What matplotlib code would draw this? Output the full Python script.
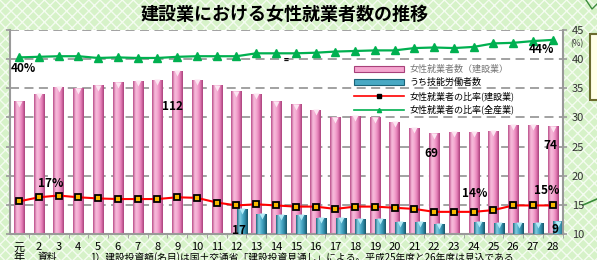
import numpy as np
import matplotlib
matplotlib.use('Agg')
import matplotlib.pyplot as plt
from matplotlib.colors import LinearSegmentedColormap
from matplotlib.patches import FancyBboxPatch, Rectangle, Patch
from matplotlib.lines import Line2D

plt.rcParams['font.family'] = ['Noto Sans CJK JP', 'DejaVu Sans']

# data (平成元年 - 28年)
years = ['元'] + [str(i) for i in range(2, 29)]
women_const = [91, 96, 101, 100, 102, 104, 105, 106, 112, 106, 102, 98, 96, 91,
               89, 85, 80, 81, 80, 77, 73, 69, 70, 70, 71, 75, 75, 74]
skilled = [np.nan] * 11 + [17, 14, 13, 13, 11, 11, 10, 10, 8.2, 8.0, 7.1, np.nan,
                           8.0, 7.3, 7.3, 7.3, 8.6]
ratio_const = [15.6, 16.3, 16.6, 16.3, 16.1, 16.0, 16.0, 16.0, 16.3, 16.2, 15.4, 14.9,
               15.1, 14.9, 14.7, 14.7, 14.3, 14.7, 14.7, 14.5, 14.3, 13.8, 13.8, 13.8,
               14.1, 14.9, 14.9, 14.9]
ratio_all = [40.3, 40.4, 40.5, 40.5, 40.2, 40.3, 40.2, 40.2, 40.4, 40.5, 40.5, 40.5,
             41.0, 41.0, 41.0, 41.1, 41.3, 41.4, 41.5, 41.5, 41.9, 42.0, 41.9, 42.1,
             42.7, 42.8, 43.1, 43.3]
legend_labels = ['女性就業者数（建設業）', 'うち技能労働者数',
                 '女性就業者の比率(建設業)', '女性就業者の比率(全産業)']

x = np.arange(len(years))
W, H = 597, 260

fig = plt.figure(figsize=(W / 100, H / 100), dpi=100)

# background layer in pixel coords
bg = fig.add_axes([0, 0, 1, 1], zorder=-5)
bg.set_xlim(0, W)
bg.set_ylim(H, 0)
bg.axis('off')
bg.add_patch(Rectangle((0, 0), W, H, facecolor='#d6f2c8', edgecolor='#f4fcf0',
                       hatch='xxx', lw=0))

# title bar with tube gradient
tb = FancyBboxPatch((6, 4), 558, 21, boxstyle='round,pad=0,rounding_size=7',
                    facecolor='none', edgecolor='none')
bg.add_patch(tb)
tube = LinearSegmentedColormap.from_list('tube', ['#1f6a22', '#7fbf7a', '#ffffff', '#f2f6f1',
                                                  '#9cc496', '#2b7a2e'])
im = bg.imshow(np.linspace(0, 1, 64).reshape(-1, 1), cmap=tube, aspect='auto',
               extent=(6, 564, 25, 4), interpolation='bicubic')
im.set_clip_path(tb)
bg.text(285, 14.5, '建設業における女性就業者数の推移', fontsize=13, fontweight='bold',
        ha='center', va='center', color='black')

# bits of the callout on the right edge
bg.add_patch(Rectangle((590, 34), 12, 66, facecolor='#ffffe6', edgecolor='#6b6b2e', lw=1.5))
bg.plot([583, 597], [205, 199], color='#3a8a3a', lw=1.2)
bg.plot([586, 592, 597], [0, 9, 4], color='#3a8a3a', lw=1.0)
bg.set_xlim(0, W)
bg.set_ylim(H, 0)

# main axes
ax = fig.add_axes([10 / W, 26 / H, 553 / W, 204 / H])
ax.set_facecolor('white')
ax2 = ax.twinx()

pink = LinearSegmentedColormap.from_list('pink', ['#b84a86', '#f7bddc', '#f5a9d1', '#e47cb6', '#a8407a'])
blue = LinearSegmentedColormap.from_list('blue', ['#1c6478', '#86d0e3', '#4eaecb', '#2f8aa6', '#175466'])


def grad_bars(axis, bars, cmap):
    g = np.linspace(0, 1, 64).reshape(1, -1)
    for b in bars:
        h = b.get_height()
        if not np.isfinite(h) or h == 0:
            continue
        x0 = b.get_x()
        img = axis.imshow(g, cmap=cmap, aspect='auto', interpolation='bicubic',
                          extent=(x0, x0 + b.get_width(), 0, h), zorder=b.get_zorder())
        img.set_clip_path(b)
        b.set_facecolor('none')


bw = 0.52
b1 = ax.bar(x, women_const, width=bw, zorder=2, edgecolor='none')
grad_bars(ax, b1, pink)
ax.plot(x, np.array(women_const) - 1.6, 'v', color='#fde6f2', ms=4.5, mec='none', zorder=3)

xs = x + 0.27
b2 = ax.bar(xs, skilled, width=bw, zorder=4, edgecolor='none')
grad_bars(ax, b2, blue)
ax.plot(xs, np.array(skilled) - 1.4, 'v', color='#b4ecf8', ms=4.5, mec='none', zorder=5)

ax.set_xlim(-0.46, 27.52)
ax.set_ylim(0, 140)
ax.set_yticks(np.arange(0, 141, 20))
ax.yaxis.grid(True, ls=(0, (5, 3)), color='#9a9a9a', lw=1.3, zorder=0)
ax.set_axisbelow(True)
ax.tick_params(axis='y', labelleft=False, length=3, color='#9a9a9a', width=1.2)
ax.set_xticks(x)
ax.set_xticklabels(years, fontsize=8)
ax.set_xticks(x + 0.5, minor=True)
ax.tick_params(axis='x', which='major', length=0, pad=6)
ax.tick_params(axis='x', which='minor', length=3, color='#9a9a9a')
for s in ['left', 'bottom']:
    ax.spines[s].set_color('#9a9a9a')
    ax.spines[s].set_linewidth(1.5)
ax.spines['top'].set_visible(False)
ax.spines['right'].set_visible(False)

# lines on the percent axis
ax2.plot(x, ratio_all, color='#00b050', lw=1.6, marker='^', ms=5.5, zorder=6)
ax2.plot(x, ratio_const, color='#ff0000', lw=1.5, marker='s', ms=4.5,
         mfc='#f5b800', mec='black', mew=1.3, zorder=6)
ax2.set_ylim(10, 45)
ax2.set_yticks(np.arange(10, 46, 5))
ax2.tick_params(axis='y', labelsize=8, length=3, color='#9a9a9a', width=1.2, labelcolor='#333333')
ax2.spines['right'].set_color('#9a9a9a')
ax2.spines['right'].set_linewidth(1.5)
for s in ['left', 'top', 'bottom']:
    ax2.spines[s].set_visible(False)
fig.text(577 / W, 1 - 44 / H, '(%)', fontsize=6, ha='center', va='center', color='#333333')

# data labels
lab = dict(fontsize=8.5, fontweight='bold', ha='center', va='center',
           textcoords='offset points', zorder=10)
ax2.annotate('40%', (0, ratio_all[0]), xytext=(3, -8), **lab)
ax2.annotate('44%', (27, ratio_all[27]), xytext=(-8, -7), **lab)
ax2.annotate('17%', (2, ratio_const[2]), xytext=(-6, 8.5), **lab)
ax2.annotate('14%', (23, ratio_const[23]), xytext=(1, 13.5), **lab)
ax2.annotate('15%', (27, ratio_const[27]), xytext=(-4, 10.5), **lab)
ax.annotate('112', (8, women_const[8]), xytext=(-3.5, -26), **lab)
ax.annotate('69', (21, women_const[21]), xytext=(-2, -14.5), **lab)
ax.annotate('74', (27, women_const[27]), xytext=(-2, -14), **lab)
ax.annotate('17', (xs[11], skilled[11]), xytext=(-1.8, -15.5), **lab)
ax.annotate('9', (xs[27], skilled[27]), xytext=(-2, -5.5), **lab)
fig.text(286 / W, 1 - 60 / H, '=', fontsize=6, fontweight='bold', ha='center', va='center')

# legend
handles = [Patch(facecolor='#f4a6cf', edgecolor='#a8407a', lw=0.8),
           Patch(facecolor='#49a9c4', edgecolor='#1c6478', lw=0.8),
           Line2D([], [], color='#ff0000', lw=1.2, marker='s', ms=3, mfc='black', mec='black'),
           Line2D([], [], color='#00b050', lw=1.2, marker='^', ms=3)]
leg = fig.legend(handles, legend_labels, loc='upper left', bbox_to_anchor=(350 / W, 1 - 61 / H),
                 frameon=False, fontsize=6.5, handlelength=5.6, handleheight=0.6,
                 labelspacing=0.45, handletextpad=0.6, borderaxespad=0)
leg.get_texts()[0].set_color('#777777')

# footnote, running off the bottom edge as in the source
fig.text(19 / W, 1 - 253 / H, '年', fontsize=8, ha='center', va='top')
fig.text(38 / W, 1 - 252 / H, '資料', fontsize=7, ha='left', va='top')
fig.text(90 / W, 1 - 252 / H,
         '1）建設投資額(名目)は国土交通省「建設投資見通し」による。平成25年度と26年度は見込である',
         fontsize=7, ha='left', va='top')

fig.savefig('out.png', dpi=100)
